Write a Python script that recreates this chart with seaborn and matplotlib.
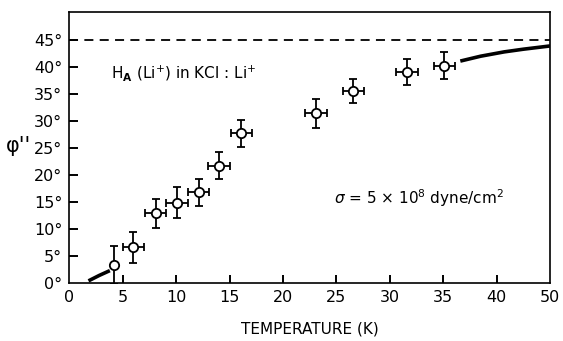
import numpy as np
import pandas as pd
import matplotlib
matplotlib.use("Agg")
import matplotlib.pyplot as plt
import seaborn as sns

# measured points
temp = [4.2, 6.0, 8.1, 10.1, 12.1, 14.0, 16.1, 23.1, 26.6, 31.6, 35.1]
phi = [3.3, 6.6, 12.9, 14.9, 16.8, 21.7, 27.7, 31.4, 35.6, 39.1, 40.2]
phi_err = [3.5, 2.8, 2.7, 2.8, 2.5, 2.5, 2.5, 2.6, 2.2, 2.4, 2.5]
temp_err = [0.0, 1.0, 1.0, 1.0, 1.0, 1.0, 1.0, 1.0, 1.0, 1.0, 1.0]

# theory curves
low_t = [1.8, 2.8, 3.8]
low_phi = [0.4, 1.4, 2.3]
high_t = [36.6, 38.5, 41.4, 45.0, 50.0]
high_phi = [41.1, 42.0, 42.8, 43.3, 43.9]

xticks = [0, 5, 10, 15, 20, 25, 30, 35, 40]
yticks = [0, 5, 10, 15, 20, 25, 30, 35, 40, 45]

df = pd.DataFrame({"T": temp, "phi": phi, "dT": temp_err, "dphi": phi_err})

sns.set_style("ticks")
rc = {
    "font.family": ["DejaVu Sans"],
    "text.color": "black",
    "axes.labelcolor": "black",
    "axes.edgecolor": "black",
    "axes.linewidth": 1.2,
    "xtick.major.size": 0, "ytick.major.size": 0,
    "xtick.minor.size": 0,
    "xtick.color": "black", "ytick.color": "black",
    "xtick.labelsize": 11.5, "ytick.labelsize": 11.5,
    "xtick.major.pad": 5, "ytick.major.pad": 5, "xtick.minor.pad": 5,
}
plt.rcParams.update(rc)


def fwd(x):
    x = np.asarray(x, dtype=float)
    return np.where(x <= 40, x, 40 + (x - 40) * 0.5)


def inv(x):
    x = np.asarray(x, dtype=float)
    return np.where(x <= 40, x, 40 + (x - 40) * 2.0)


fig, ax = plt.subplots(figsize=(5.63, 3.41), dpi=100)
fig.subplots_adjust(left=0.123, right=0.977, top=0.965, bottom=0.17)
ax.set_xscale("function", functions=(fwd, inv))

ax.axhline(45, color="black", lw=1.3, ls=(0, (5, 3.5)))
ax.plot(low_t, low_phi, color="black", lw=2.6, solid_capstyle="butt")
ax.plot(high_t, high_phi, color="black", lw=2.6, solid_capstyle="butt")

ebkw = dict(fmt="none", ecolor="black", elinewidth=1.3, capsize=2.8, capthick=1.3)
ax.errorbar(df["T"], df["phi"], yerr=df["dphi"], **ebkw)
hx = df[df["dT"] > 0]
ax.errorbar(hx["T"], hx["phi"], xerr=hx["dT"], **ebkw)
sns.scatterplot(data=df, x="T", y="phi", ax=ax, marker="o", s=45,
                facecolor="white", edgecolor="black", linewidth=1.3, zorder=5)

ax.set_xlim(0, 50)
ax.set_ylim(0, 50.2)
ax.set_xticks(xticks)
ax.set_xticklabels([str(t) for t in xticks])
ax.set_xticks([50], labels=["50"], minor=True)
ax.tick_params(axis="x", which="minor", labelsize=11.5)
ax.set_yticks(yticks)
ax.set_yticklabels([f"{t}°" for t in yticks])

# inward tick marks
ax.vlines(xticks[1:], 0, 0.03, transform=ax.get_xaxis_transform(),
          color="black", lw=1.4, zorder=10, clip_on=False)
ax.hlines(yticks[1:], 0, 0.018, transform=ax.get_yaxis_transform(),
          color="black", lw=1.4, zorder=10, clip_on=False)

ax.set_xlabel("TEMPERATURE (K)", fontsize=11, labelpad=12)
ax.set_ylabel("φ''", fontsize=15, rotation=0)
ax.yaxis.set_label_coords(-0.105, 0.47)

ax.text(3.9, 38, r"H$_\mathbf{A}$ (Li$^{+}$) in KCl : Li$^{+}$", fontsize=11)
ax.text(24.8, 14.6, r"$\sigma$ = 5 × 10$^{8}$ dyne/cm$^{2}$", fontsize=11)

fig.savefig("out.png", dpi=100)
